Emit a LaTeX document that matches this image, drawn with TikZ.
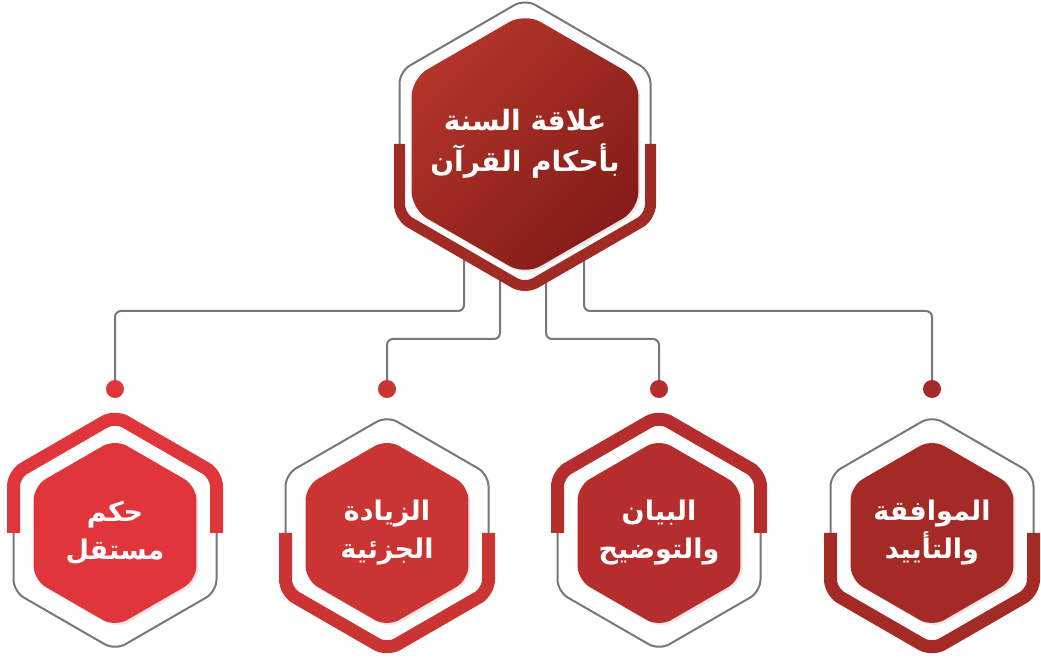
\documentclass[tikz,border=0pt]{standalone}
\usepackage{fontspec}
\usepackage{xcolor}
\usetikzlibrary{shapes,shadows,calc}
\TeXXeTstate=1
\newfontfamily\arabicfont[Script=Arabic]{DejaVu Sans}

\definecolor{redA}{HTML}{E0363B}
\definecolor{redB}{HTML}{CA3432}
\definecolor{redC}{HTML}{B52D2C}
\definecolor{redD}{HTML}{A42A26}
\definecolor{redTop}{HTML}{A02A24}
\definecolor{topLight}{HTML}{B3352A}
\definecolor{topDark}{HTML}{841C18}
\definecolor{lineGray}{HTML}{777777}

\tikzset{
  hexa/.style={regular polygon, regular polygon sides=6, shape border rotate=30,
    inner sep=0pt, drop shadow={shadow xshift=2pt, shadow yshift=-2pt, opacity=0.2}},
  small hex/.style={hexa, minimum size=188pt, rounded corners=14pt},
  hextext/.style={text=white, align=center,
    font=\arabicfont\bfseries\fontsize{28}{41}\selectfont},
  smalltext/.style={text=white, align=center,
    font=\arabicfont\bfseries\fontsize{27}{38}\selectfont},
  band/.style={line width=13pt, rounded corners=12pt},
  frameline/.style={draw=lineGray, line width=2pt, rounded corners=12pt},
  dot/.style={circle, inner sep=0pt, minimum size=18pt},
  conn/.style={draw=lineGray, line width=2pt, rounded corners=6pt},
}

\begin{document}
\begin{tikzpicture}[x=1pt,y=1pt]
\useasboundingbox (0,0) rectangle (1041,658);

% levels and starts of the connectors
\coordinate (lvlA) at (0,347);
\coordinate (lvlB) at (0,319);
\coordinate (s1) at (464,402);
\coordinate (s2) at (500,382);
\coordinate (s3) at (546,380);
\coordinate (s4) at (584,401);

\node[dot, fill=redA] (d1) at (115,269) {};
\node[dot, fill=redB] (d2) at (387,269) {};
\node[dot, fill=redC] (d3) at (659,269) {};
\node[dot, fill=redD] (d4) at (932,269) {};

\draw[conn] (s1) |- (d1 |- lvlA) -- (d1);
\draw[conn] (s2) |- (d2 |- lvlB) -- (d2);
\draw[conn] (s3) |- (d3 |- lvlB) -- (d3);
\draw[conn] (s4) |- (d4 |- lvlA) -- (d4);

% top hexagon
\node[hexa, minimum size=262pt, rounded corners=18pt,
  top color=topLight, bottom color=topDark, shading angle=45,
  label={[hextext]center:\beginR علاقة السنة\endR\\\beginR بأحكام القرآن\endR}]
  (top) at (525,514) {};
\draw[frameline] ([xshift=-125.5pt]top.center) -- ++(0,72.5) -- ++(125.5,72.5)
  -- ++(125.5,-72.5) -- ++(0,-72.5);
\draw[band, line width=11pt, draw=redTop] ([xshift=-125.5pt]top.center) -- ++(0,-72.5)
  -- ++(125.5,-72.5) -- ++(125.5,72.5) -- ++(0,72.5);

% lower hexagons
\node[small hex, fill=redA,
  label={[smalltext]center:\beginR حكم\endR\\\beginR مستقل\endR}] (h1) at (115,125) {};
\draw[band, draw=redA] ([xshift=-101.5pt]h1.center) -- ++(0,58.6) -- ++(101.5,58.6)
  -- ++(101.5,-58.6) -- ++(0,-58.6);
\draw[frameline] ([xshift=-101.5pt]h1.center) -- ++(0,-58.6) -- ++(101.5,-58.6)
  -- ++(101.5,58.6) -- ++(0,58.6);

\node[small hex, fill=redB,
  label={[smalltext]center:\beginR الزيادة\endR\\\beginR الجزئية\endR}] (h2) at (387,125) {};
\draw[frameline] ([xshift=-101.5pt]h2.center) -- ++(0,58.6) -- ++(101.5,58.6)
  -- ++(101.5,-58.6) -- ++(0,-58.6);
\draw[band, draw=redB] ([xshift=-101.5pt]h2.center) -- ++(0,-58.6) -- ++(101.5,-58.6)
  -- ++(101.5,58.6) -- ++(0,58.6);

\node[small hex, fill=redC,
  label={[smalltext]center:\beginR البيان\endR\\\beginR والتوضيح\endR}] (h3) at (659,125) {};
\draw[band, draw=redC] ([xshift=-101.5pt]h3.center) -- ++(0,58.6) -- ++(101.5,58.6)
  -- ++(101.5,-58.6) -- ++(0,-58.6);
\draw[frameline] ([xshift=-101.5pt]h3.center) -- ++(0,-58.6) -- ++(101.5,-58.6)
  -- ++(101.5,58.6) -- ++(0,58.6);

\node[small hex, fill=redD,
  label={[smalltext]center:\beginR الموافقة\endR\\\beginR والتأييد\endR}] (h4) at (932,125) {};
\draw[frameline] ([xshift=-101.5pt]h4.center) -- ++(0,58.6) -- ++(101.5,58.6)
  -- ++(101.5,-58.6) -- ++(0,-58.6);
\draw[band, draw=redD] ([xshift=-101.5pt]h4.center) -- ++(0,-58.6) -- ++(101.5,-58.6)
  -- ++(101.5,58.6) -- ++(0,58.6);
\end{tikzpicture}
\end{document}
